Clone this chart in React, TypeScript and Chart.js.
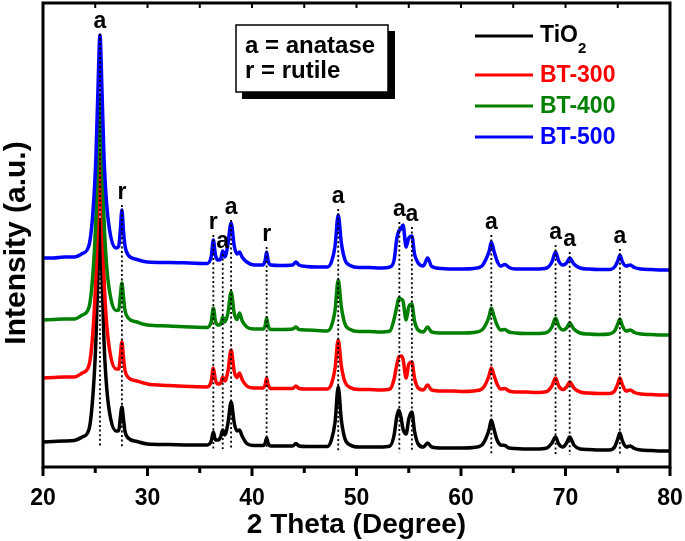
import React, { useEffect, useRef } from "react";
import { Chart, registerables } from "chart.js";

Chart.register(...registerables);

const FONT = '"Liberation Sans", Arial, sans-serif';

// 2θ (degree)
const twoTheta = [
  20, 21, 22, 23, 23.76, 24.41, 24.8, 25.06, 25.255, 25.45, 25.645, 25.84, 26.1, 26.49, 27.0, 27.25, 27.4, 27.55, 27.7, 27.85, 28.15, 29,
  30, 32, 34, 35.7, 36.1, 36.3, 36.5, 36.75, 37.0, 37.2, 37.4, 37.7, 38.0, 38.3, 38.55, 38.8, 39.05, 39.5, 40.2, 41.0, 41.25, 41.4, 41.55, 41.8, 42.7, 43.9, 44.2, 44.5, 45.2, 46.2,
  47.2, 47.6, 47.95, 48.25, 48.55, 48.9, 49.4, 50.2, 51.2, 52.2, 53.2, 53.6, 53.85, 54.05, 54.25, 54.45, 54.75, 55.0, 55.3, 55.55, 55.9, 56.4, 56.8, 57.2, 58.2,
  59.2, 60.2, 61.2, 62.0, 62.4, 62.7, 62.9, 63.15, 63.45, 63.8, 64.2, 64.6, 65.2, 66.2, 67.2, 68.2, 68.7, 69.05, 69.35, 69.75, 70.1, 70.4, 70.8, 71.4, 72.2, 73.2, 74.2, 74.7, 75.0, 75.2, 75.45, 75.8, 76.2, 76.6, 77.2, 78.2, 79.2, 80,
];

// Intensities (a.u., stacked offsets as in the figure)
const tio2 = [
  25, 25.5, 26, 26.5, 30, 38, 75, 125.5, 191.5, 246, 191, 125, 78.5, 47.5, 36, 36.4, 49.5, 60, 48, 35.4, 29, 25.5,
  23, 22.5, 22, 22, 26, 35, 27, 27, 30, 37, 32, 44, 65, 44, 36, 37, 31, 23.5, 21.5, 21.5, 23.5, 29, 23.5, 21, 21, 21, 23.5, 21, 20.5, 20.5,
  20.5, 27, 45, 80, 47, 28, 22, 20, 20, 20, 21, 32, 50, 57, 50, 38, 33, 48, 55, 36, 23, 20, 24, 20, 19,
  19, 19, 19.5, 22, 29, 38, 47, 38, 27, 22, 21.5, 19, 18.5, 18, 18, 19, 24, 30, 23, 20, 24, 30, 22, 18, 17.5, 17, 17, 20, 28, 34, 26, 20, 21, 18.5, 17, 16.5, 16, 16,
];
const bt300 = [
  89, 89.5, 90, 90, 94, 102, 138.5, 190, 258, 314, 257.5, 189.5, 142, 110, 98, 98, 111, 125, 109.5, 96.5, 89.7, 86,
  83, 81.5, 80.5, 80, 86, 99, 87, 83, 84, 90, 86, 96, 117, 95.5, 89.5, 94, 87.5, 81, 79, 79, 82, 89, 82, 78.5, 78.5, 78.5, 81, 78.5, 78, 78,
  78, 83, 99, 127, 101, 85, 79.5, 77.5, 77.5, 77, 78, 88, 102, 110, 111, 108, 89, 103, 105, 89, 79, 77, 82, 77, 76,
  76, 75.5, 76, 78, 84, 92, 99, 92, 83, 78, 78.5, 76, 75, 75, 74.5, 75.5, 81, 89, 81, 77.5, 80, 85, 79, 75, 74, 73.5, 73.5, 76, 83, 89, 82, 76, 77, 74.5, 73, 72.5, 72, 72,
];
const bt400 = [
  147, 147.5, 148, 148, 152, 160, 196.5, 248, 316, 372, 315.5, 247.5, 200, 168.5, 156.5, 157, 171, 184, 170, 156.5, 149, 145,
  142, 141, 140, 139.5, 145.5, 159, 146, 142, 143, 150, 145, 154, 175, 153.5, 147.5, 154, 146.5, 140, 138, 138, 141, 149, 141, 137.5, 137.5, 138, 140, 137.5, 137, 136.5,
  136, 141, 157, 187, 160, 143, 137.5, 135.5, 135.5, 135, 136, 148, 160, 169, 168, 166, 147, 160, 163, 146, 137, 135, 140, 135, 134,
  134, 134, 134.5, 137, 143, 151, 159, 151, 142, 137, 137.5, 135, 134, 133.5, 133.5, 134.5, 140, 149, 141, 137, 139, 144, 138, 134, 133, 132.5, 133, 136, 143, 148, 141, 136, 137, 134.5, 133, 132.5, 132, 132,
];
const bt500 = [
  209, 209, 210, 210, 213.5, 222, 258, 309, 376, 432, 376, 309, 262, 230, 219, 221, 237, 257, 236, 221, 212, 207.5,
  205, 204.5, 204, 203.5, 210.5, 227, 212, 207, 208, 216, 210, 223, 244, 221, 213, 215, 210, 205, 202, 202, 206, 215, 206, 202, 201.5, 202, 205, 202, 200.5, 200,
  200, 205, 221, 252, 224, 207, 201.5, 199.5, 199.5, 199, 200, 207, 228, 236, 238, 242, 220, 229, 231, 213, 204, 201, 209, 200.5, 198.5,
  198, 198, 198.5, 201, 208, 216, 225, 216, 206, 201, 202.5, 199.5, 198, 198, 198, 199, 205, 215, 206, 202, 204, 209, 203, 199, 198, 197.5, 197.5, 200, 206, 212, 205, 201, 202, 199.5, 198, 197.5, 197, 197,
];

const seriesNames = ["TiO2", "BT-300", "BT-400", "BT-500"];
const seriesColors = ["#000000", "#ff0000", "#008000", "#0000ff"];
const seriesValues = [tio2, bt300, bt400, bt500];

const xMin = 20;
const xMax = 80;
const xStep = 10;
const xTitle = "2 Theta (Degree)";
const yTitle = "Intensity (a.u.)";

// Peak markers
const peakPositions = [25.45, 27.55, 36.3, 37.2, 38.0, 41.4, 48.25, 54.1, 55.3, 62.9, 69.05, 70.4, 75.2];
const peakPhases = ["a", "r", "r", "a", "a", "r", "a", "a", "a", "a", "a", "a", "a"];
const peakLabelLevels = [445, 274, 244, 225, 259, 232, 270, 257, 252, 244, 234, 227, 230];

const phaseKey = ["a = anatase", "r = rutile"];

const overlayPlugin = {
  id: "xrdOverlay",
  afterDatasetsDraw(chart: any) {
    const { ctx, chartArea: ca, scales } = chart;
    const x = scales.x;
    const y = scales.y;
    ctx.save();
    // dotted guide lines
    ctx.strokeStyle = "#000";
    ctx.lineWidth = 1.8;
    ctx.setLineDash([2, 2.6]);
    peakPositions.forEach((p, i) => {
      const px = x.getPixelForValue(p);
      const top = y.getPixelForValue(peakLabelLevels[i]) + 12;
      const bottom = y.getPixelForValue(21 - (p - 20) * 0.18);
      ctx.beginPath();
      ctx.moveTo(px, top);
      ctx.lineTo(px, bottom);
      ctx.stroke();
    });
    ctx.setLineDash([]);
    // peak letters
    ctx.fillStyle = "#000";
    ctx.font = `bold 23px ${FONT}`;
    ctx.textAlign = "center";
    ctx.textBaseline = "middle";
    peakPositions.forEach((p, i) => {
      ctx.fillText(peakPhases[i], x.getPixelForValue(p), y.getPixelForValue(peakLabelLevels[i]));
    });
    // frame
    ctx.lineWidth = 3;
    ctx.strokeRect(ca.left, ca.top, ca.right - ca.left, ca.bottom - ca.top);
    // ticks
    for (let v = xMin; v <= xMax; v += 5) {
      const px = x.getPixelForValue(v);
      const major = (v - xMin) % xStep === 0;
      ctx.lineWidth = 3;
      ctx.beginPath();
      ctx.moveTo(px, ca.bottom);
      ctx.lineTo(px, ca.bottom + (major ? 9 : 6));
      ctx.stroke();
      if (v > xMin && v < xMax) {
        ctx.lineWidth = 2;
        ctx.beginPath();
        ctx.moveTo(px, ca.top);
        ctx.lineTo(px, ca.top + 5);
        ctx.stroke();
      }
    }
    ctx.restore();
  },
  afterDraw(chart: any) {
    const { ctx } = chart;
    ctx.save();
    // y axis title
    ctx.fillStyle = "#000";
    ctx.font = `bold 30px ${FONT}`;
    ctx.textAlign = "center";
    ctx.textBaseline = "middle";
    ctx.translate(17, 243);
    ctx.rotate(-Math.PI / 2);
    ctx.fillText(yTitle, 0, 0);
    ctx.setTransform(1, 0, 0, 1, 0, 0);

    // key box with shadow
    ctx.fillStyle = "#000";
    ctx.fillRect(242, 31, 153, 68);
    ctx.fillStyle = "#fff";
    ctx.fillRect(236, 25, 152, 67);
    ctx.strokeStyle = "#000";
    ctx.lineWidth = 1.5;
    ctx.strokeRect(236, 25, 152, 67);
    ctx.fillStyle = "#000";
    ctx.font = `bold 24px ${FONT}`;
    ctx.textAlign = "left";
    ctx.textBaseline = "middle";
    ctx.fillText(phaseKey[0], 245, 46);
    ctx.fillText(phaseKey[1], 245, 71);

    // legend
    const rows = [36, 75, 106, 137];
    seriesNames.forEach((name, i) => {
      const yy = rows[i];
      ctx.strokeStyle = seriesColors[i];
      ctx.lineWidth = 3;
      ctx.beginPath();
      ctx.moveTo(475, yy);
      ctx.lineTo(533, yy);
      ctx.stroke();
      ctx.fillStyle = seriesColors[i];
      ctx.font = `bold 23px ${FONT}`;
      if (name === "TiO2") {
        ctx.fillText("TiO", 540, yy);
        const w = ctx.measureText("TiO").width;
        ctx.font = `bold 15px ${FONT}`;
        ctx.fillText("2", 540 + w, yy + 13);
      } else {
        ctx.fillText(name, 540, yy + 1);
      }
    });
    ctx.restore();
  },
};

export default function App() {
  const canvasRef = useRef<HTMLCanvasElement | null>(null);

  useEffect(() => {
    if (!canvasRef.current) return;
    const datasets = seriesNames.map((name, i) => ({
      label: name,
      data: twoTheta.map((t, k) => ({ x: t, y: seriesValues[i][k] })),
      borderColor: seriesColors[i],
      backgroundColor: seriesColors[i],
      borderWidth: 3.5,
      pointRadius: 0,
      cubicInterpolationMode: "monotone" as const,
      borderJoinStyle: "round" as const,
      order: seriesNames.length - 1 - i,
    }));
    const chart = new Chart(canvasRef.current, {
      type: "line",
      data: { datasets },
      options: {
        animation: false,
        responsive: false,
        devicePixelRatio: 1,
        layout: { padding: { top: 3, right: 15, bottom: 0, left: 0 } },
        plugins: {
          legend: { display: false },
          tooltip: { enabled: false },
        },
        scales: {
          x: {
            type: "linear",
            min: xMin,
            max: xMax,
            grid: { display: false, drawTicks: false },
            border: { display: false },
            ticks: {
              stepSize: xStep,
              color: "#000",
              padding: 18,
              font: { family: FONT, size: 23, weight: "bold" },
            },
            title: {
              display: true,
              text: xTitle,
              color: "#000",
              font: { family: FONT, size: 28, weight: "bold", lineHeight: 1 },
              padding: { top: 0, bottom: 2 },
            },
            afterFit: (s: any) => {
              s.height = 74;
              s.paddingLeft = 0;
              s.paddingRight = 0;
            },
          },
          y: {
            type: "linear",
            min: 0,
            max: 464,
            grid: { display: false, drawTicks: false },
            border: { display: false },
            ticks: { display: false },
            title: { display: false },
            afterFit: (s: any) => {
              s.width = 43;
            },
          },
        },
      },
      plugins: [overlayPlugin],
    });
    return () => chart.destroy();
  }, []);

  return (
    <div style={{ position: "absolute", left: 0, top: 0, width: 685, height: 541, background: "#fff" }}>
      <canvas ref={canvasRef} width={685} height={541} style={{ display: "block" }} />
    </div>
  );
}
